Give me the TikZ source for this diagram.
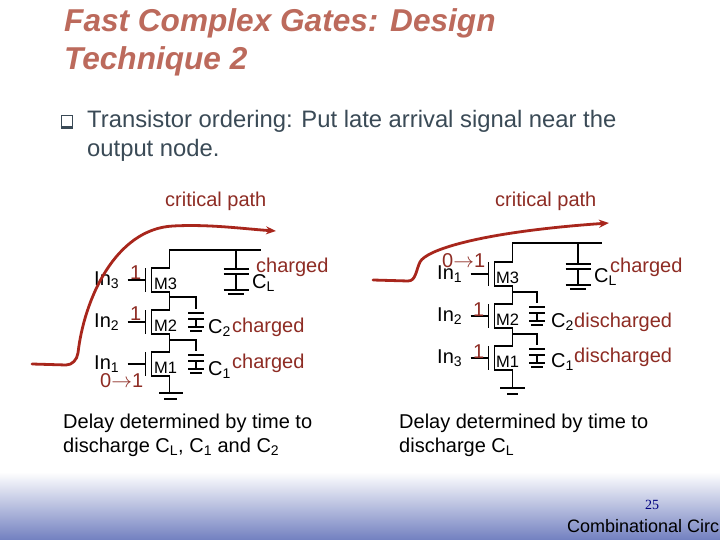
\documentclass[tikz,border=0pt]{standalone}
\usepackage{fontspec}
\setmainfont{Liberation Sans}
\newfontfamily\serifnum{Liberation Serif}
\usetikzlibrary{arrows.meta}
\definecolor{titlered}{HTML}{BC6A5C}
\definecolor{pathred}{HTML}{A8261C}
\definecolor{labelred}{HTML}{8E2C24}
\definecolor{bodygrey}{HTML}{3A4A56}
\definecolor{footblue}{HTML}{7280C0}
\tikzset{
  txt/.style={anchor=base west, inner sep=0pt, font=\fontsize{20}{20}\selectfont},
  red/.style={txt, text=labelred},
  fetlbl/.style={txt, font=\fontsize{16.5}{16.5}\selectfont},
  body/.style={txt, text=bodygrey, font=\fontsize{23.8}{23.8}\selectfont},
  title/.style={anchor=base west, inner sep=0pt, text=titlered, font=\fontsize{31.6}{31.6}\selectfont\bfseries\itshape},
  wire/.style={line width=1.5pt, line join=miter},
  critical/.style={line width=2.8pt, pathred, line cap=round, -{Stealth[length=10pt, width=8pt]}},
  pics/fet/.style={code={
    \draw[line width=1.8pt] (-6,-12) -- (-6,12);
    \draw[wire] (-24,0) -- (-6,0);
    \draw[line width=1.8pt] (18,-12) -- (0,-12) -- (0,12) -- (18,12);
    \coordinate (-d) at (18,-12);
    \coordinate (-s) at (18,12);
  }},
  pics/capsmall/.style={code={
    \coordinate (-t) at (0,-4);
    \draw[line width=1.8pt] (-8,0) -- (8,0) (-8,6) -- (8,6);
    \draw[wire] (0,6) -- (0,14);
    \draw[line width=2.4pt] (-8,14) -- (8,14);
    \draw[line width=1.6pt] (-6,18) -- (6,18);
  }},
  pics/capload/.style={code={
    \coordinate (-t) at (0,0);
    \draw[line width=1.8pt] (-12.5,0) -- (12.5,0) (-12.5,5) -- (12.5,5);
    \draw[wire] (0,5) -- (0,21);
    \draw[line width=2.4pt] (-12.5,21) -- (12.5,21);
    \draw[line width=1.6pt] (-8,25) -- (8,25);
  }}
}
\begin{document}
\begin{tikzpicture}[x=1pt, y=-1pt]
    % Page and footer band
    \useasboundingbox (0,0) rectangle (720,540);
    \fill[white] (0,0) rectangle (720,540);
    \shade[top color=white, bottom color=footblue] (0,472) rectangle (720,540);

    % Title
    \node[title] (title1) at (64,32) {Fast Complex Gates: Design};
    \node[title] (title2) at (64,70) {Technique 2};

    % Bullet
    \node[draw=bodygrey, line width=1pt, minimum size=11pt, inner sep=0pt] (bullet) at (66.5,121.5) {};
    \draw[bodygrey, line width=2.2pt] (bullet.south west) -- (bullet.south east);
    \node[body] (line1) at (87,128) {Transistor ordering: Put late arrival signal near the};
    \node[body] (line2) at (87,157) {output node.};

    % Left circuit
    \node[red] (critl) at (165,207) {critical path};
    \pic (lm3) at (151.5,280) {fet};
    \pic (lm2) at (151.5,322) {fet};
    \pic (lm1) at (151.5,364) {fet};
    \pic (lcl) at (236,269) {capload};
    \pic (lc2) at (196,313) {capsmall};
    \pic (lc1) at (196,355) {capsmall};
    \coordinate (ltop) at (169.5,250);
    \coordinate (ltopend) at (261,250);
    \coordinate (lgnd) at (169.5,393);
    \coordinate (ln2) at (169.5,297);
    \coordinate (ln1) at (169.5,340);
    \coordinate (lclup) at (236,250);
    \draw[wire] (lm3-d) -- (ltop) -- (ltopend);
    \draw[wire] (lclup) -- (lcl-t);
    \draw[wire] (lm3-s) -- (lm2-d);
    \draw[wire] (lm2-s) -- (lm1-d);
    \draw[wire] (lm1-s) -- (lgnd);
    \draw[wire] (ln2) -| (lc2-t);
    \draw[wire] (ln1) -| (lc1-t);
    \draw[line width=2.4pt] (159,393) -- (183,393);
    \draw[line width=1.6pt] (164,399) -- (177,399);

    \node[txt] (lin3) at (94,285) {In\textsubscript{3}};
    \node[txt] (lin2) at (94,327) {In\textsubscript{2}};
    \node[txt] (lin1) at (94,369) {In\textsubscript{1}};
    \node[fetlbl] (lm3t) at (154,289) {M3};
    \node[fetlbl] (lm2t) at (154,331) {M2};
    \node[fetlbl] (lm1t) at (154,373) {M1};
    \node[red] (lone3) at (130,279) {1};
    \node[red] (lone2) at (130,320) {1};
    \node[red] (lrise) at (100,387) {0$\rightarrow$1};
    \node[txt] (lclt) at (252,288) {C\textsubscript{L}};
    \node[txt] (lc2t) at (208,333) {C\textsubscript{2}};
    \node[txt] (lc1t) at (208,375) {C\textsubscript{1}};
    \node[red] (lchl) at (256,272) {charged};
    \node[red] (lch2) at (232,332) {charged};
    \node[red] (lch1) at (232,368) {charged};

    \coordinate (lstart) at (32,364);
    \coordinate (lend) at (276,231);
    \draw[critical] (lstart) -- (66,365) .. controls (72,365) and (77,360) .. (78,353)
        .. controls (84,300) and (115,229) .. (173,226)
        .. controls (210,224) and (245,229) .. (lend);

    % Right circuit
    \node[red] (critr) at (495,207) {critical path};
    \pic (rm3) at (494.5,274) {fet};
    \pic (rm2) at (494.5,316) {fet};
    \pic (rm1) at (494.5,358) {fet};
    \pic (rcl) at (578,264) {capload};
    \pic (rc2) at (537,307) {capsmall};
    \pic (rc1) at (537,349) {capsmall};
    \coordinate (rtop) at (512.5,243);
    \coordinate (rtopend) at (602,243);
    \coordinate (rgnd) at (512.5,388);
    \coordinate (rn2) at (512.5,292);
    \coordinate (rn1) at (512.5,334);
    \coordinate (rclup) at (578,243);
    \draw[wire] (rm3-d) -- (rtop) -- (rtopend);
    \draw[wire] (rclup) -- (rcl-t);
    \draw[wire] (rm3-s) -- (rm2-d);
    \draw[wire] (rm2-s) -- (rm1-d);
    \draw[wire] (rm1-s) -- (rgnd);
    \draw[wire] (rn2) -| (rc2-t);
    \draw[wire] (rn1) -| (rc1-t);
    \draw[line width=2.4pt] (500,388) -- (525,388);
    \draw[line width=1.6pt] (507,394) -- (518,394);

    \node[txt] (rin1) at (437,279) {In\textsubscript{1}};
    \node[txt] (rin2) at (437,321) {In\textsubscript{2}};
    \node[txt] (rin3) at (437,363) {In\textsubscript{3}};
    \node[fetlbl] (rm3t) at (496,283) {M3};
    \node[fetlbl] (rm2t) at (496,325) {M2};
    \node[fetlbl] (rm1t) at (496,367) {M1};
    \node[red] (rrise) at (442,267) {0$\rightarrow$1};
    \node[red] (rone2) at (473,316) {1};
    \node[red] (rone1) at (473,358) {1};
    \node[txt] (rclt) at (594,282) {C\textsubscript{L}};
    \node[txt] (rc2t) at (551,327) {C\textsubscript{2}};
    \node[txt] (rc1t) at (551,367) {C\textsubscript{1}};
    \node[red] (rchl) at (610,272) {charged};
    \node[red] (rch2) at (574,327) {discharged};
    \node[red] (rch1) at (574,362) {discharged};

    \coordinate (rstart) at (373,280);
    \coordinate (rend) at (609,223);
    \draw[critical] (rstart) -- (408,281) .. controls (416,281) and (416,270) .. (420,262)
        .. controls (426,250) and (480,232) .. (rend);

    % Captions
    \node[txt] (capl1) at (63,428) {Delay determined by time to};
    \node[txt] (capl2) at (63,452) {discharge C\textsubscript{L}, C\textsubscript{1} and C\textsubscript{2}};
    \node[txt] (capr1) at (399,428) {Delay determined by time to};
    \node[txt] (capr2) at (399,452) {discharge C\textsubscript{L}};

    % Footer
    \node[txt, text=blue!50!black, font=\fontsize{14}{14}\selectfont\serifnum] (pageno) at (645,509) {25};
    \node[txt, font=\fontsize{18}{18}\selectfont] (footer) at (567,532) {Combinational Circ};
\end{tikzpicture}
\end{document}
